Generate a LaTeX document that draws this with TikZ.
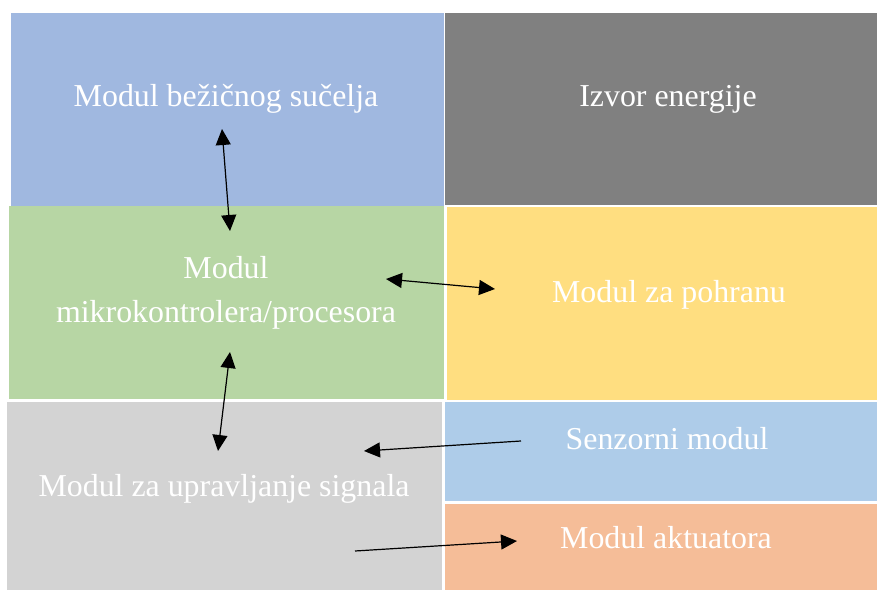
\documentclass[tikz,border=0pt]{standalone}
\usepackage{fontspec}
\setmainfont{Liberation Serif}
\usetikzlibrary{arrows.meta}

\definecolor{wirelessblue}{RGB}{160,184,224}
\definecolor{powergray}{RGB}{128,128,128}
\definecolor{mcugreen}{RGB}{183,214,164}
\definecolor{storeyellow}{RGB}{255,222,128}
\definecolor{signalgray}{RGB}{211,211,211}
\definecolor{sensorblue}{RGB}{174,204,233}
\definecolor{actsalmon}{RGB}{245,189,152}

\begin{document}
\begin{tikzpicture}[x=1bp,y=-1bp,
  block/.style={anchor=north west,inner sep=0,draw=none},
  lbl/.style={anchor=base,inner sep=0,text=white,align=center,
    font=\fontsize{32}{43.4}\selectfont},
  tip/.style={line width=1.2bp},
  both/.style={tip,{Triangle[length=16bp,width=15bp]}-{Triangle[length=16bp,width=15bp]}},
  one/.style={tip,-{Triangle[length=16bp,width=15bp]}}]
  \useasboundingbox (0,0) rectangle (877,590);
  %\draw[red] (0,0) rectangle (877,590);
  \node[block,fill=wirelessblue,minimum width=433bp,minimum height=193bp] (bezicni) at (11,13) {};
  \node[block,fill=powergray,minimum width=432bp,minimum height=192bp] (izvor) at (445,13) {};
  \node[block,fill=mcugreen,minimum width=435bp,minimum height=193bp] (mikro) at (9,206) {};
  \node[block,fill=storeyellow,minimum width=430bp,minimum height=193bp] (pohrana) at (447,207) {};
  \node[block,fill=signalgray,minimum width=435bp,minimum height=188bp] (signal) at (7,402) {};
  \node[block,fill=sensorblue,minimum width=432bp,minimum height=99bp] (senzor) at (445,402) {};
  \node[block,fill=actsalmon,minimum width=432bp,minimum height=86bp] (aktuator) at (445,504) {};

  \node[lbl] (bezicnitxt) at (226,107) {Modul bežičnog sučelja};
  \node[lbl] (izvortxt) at (668,107) {Izvor energije};
  \node[lbl] (mikrotxt) at (226,322) {Modul\\mikrokontrolera/procesora};
  \node[lbl] (pohranatxt) at (669,302) {Modul za pohranu};
  \node[lbl] (signaltxt) at (224,496) {Modul za upravljanje signala};
  \node[lbl] (senzortxt) at (667,449) {Senzorni modul};
  \node[lbl] (aktuatortxt) at (666,548) {Modul aktuatora};

  % arrow ends
  \coordinate (bezicniend) at (222,129);
  \coordinate (mikrotop) at (230,231);
  \coordinate (mikroright) at (386,279);
  \coordinate (pohranaend) at (495,289);
  \coordinate (mikrobottom) at (230,352);
  \coordinate (signaltop) at (218,451);
  \coordinate (senzorend) at (521,441);
  \coordinate (signalright) at (364,451);
  \coordinate (signalbottom) at (355,551);
  \coordinate (aktuatorend) at (517,541);

  \draw[both] (bezicniend) -- (mikrotop);
  \draw[both] (mikroright) -- (pohranaend);
  \draw[both] (mikrobottom) -- (signaltop);
  \draw[one] (senzorend) -- (signalright);
  \draw[one] (signalbottom) -- (aktuatorend);
\end{tikzpicture}
\end{document}
